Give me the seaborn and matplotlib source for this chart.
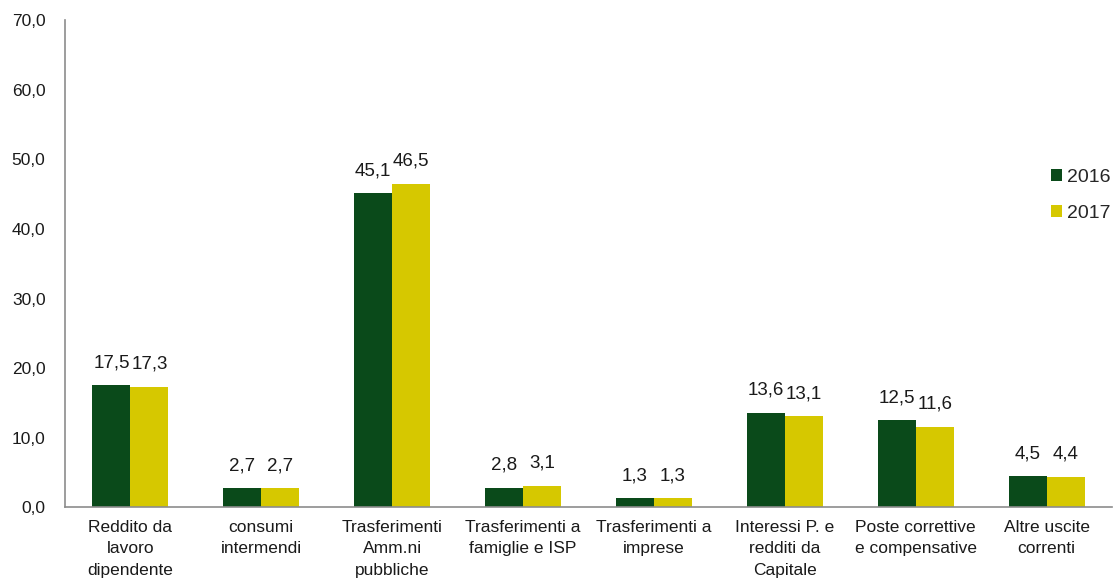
import numpy as np
import pandas as pd
import matplotlib
matplotlib.use("Agg")
import matplotlib.pyplot as plt
import seaborn as sns

categorie = [
    "Reddito da\nlavoro\ndipendente",
    "consumi\nintermendi",
    "Trasferimenti\nAmm.ni\npubbliche",
    "Trasferimenti a\nfamiglie e ISP",
    "Trasferimenti a\nimprese",
    "Interessi P. e\nredditi da\nCapitale",
    "Poste correttive\ne compensative",
    "Altre uscite\ncorrenti",
]
valori_2016 = [17.5, 2.7, 45.1, 2.8, 1.3, 13.6, 12.5, 4.5]
valori_2017 = [17.3, 2.7, 46.5, 3.1, 1.3, 13.1, 11.6, 4.4]
anni = ["2016", "2017"]
colori = ["#0a4a1a", "#d6c800"]

df = pd.DataFrame({
    "categoria": categorie * 2,
    "valore": valori_2016 + valori_2017,
    "anno": [anni[0]] * len(categorie) + [anni[1]] * len(categorie),
})

sns.set_style("white")
plt.rcParams["font.family"] = ["Liberation Sans", "DejaVu Sans"]

fig = plt.figure(figsize=(11.2, 5.79), dpi=100)
ax = fig.add_axes([0.058, 0.124, 0.935, 0.841])

sns.barplot(data=df, x="categoria", y="valore", hue="anno",
            palette=colori, width=0.58, gap=0, saturation=1, linewidth=0,
            order=categorie, hue_order=anni, ax=ax)

for cont in ax.containers:
    labels = [f"{b.get_height():.1f}".replace(".", ",") for b in cont]
    ax.bar_label(cont, labels=labels, padding=10, fontsize=13.5, color="#1a1a1a")

ax.set_ylim(0, 70)
ax.set_xlim(-0.5, 7.5)
ax.set_yticks(np.arange(0, 71, 10))
ax.set_yticklabels([f"{v:.1f}".replace(".", ",") for v in np.arange(0, 71, 10)])
ax.tick_params(axis="y", labelsize=12.5, length=0, pad=14, labelcolor="#1a1a1a")
ax.tick_params(axis="x", labelsize=12.5, length=0, pad=9, labelcolor="#1a1a1a")
for t in ax.get_xticklabels():
    t.set_linespacing(1.55)
ax.set_xlabel("")
ax.set_ylabel("")

for s in ["top", "right"]:
    ax.spines[s].set_visible(False)
for s in ["left", "bottom"]:
    ax.spines[s].set_color("#8c8c8c")
    ax.spines[s].set_linewidth(1.2)

ax.get_legend().remove()
handles = ax.containers
fig.legend(handles, anni, loc="upper left", bbox_to_anchor=(0.938, 0.708),
           frameon=False, fontsize=14, handlelength=0.57, handleheight=0.57,
           handletextpad=0.25, labelspacing=0.95, borderpad=0, borderaxespad=0)

fig.savefig("out.png", dpi=100)
